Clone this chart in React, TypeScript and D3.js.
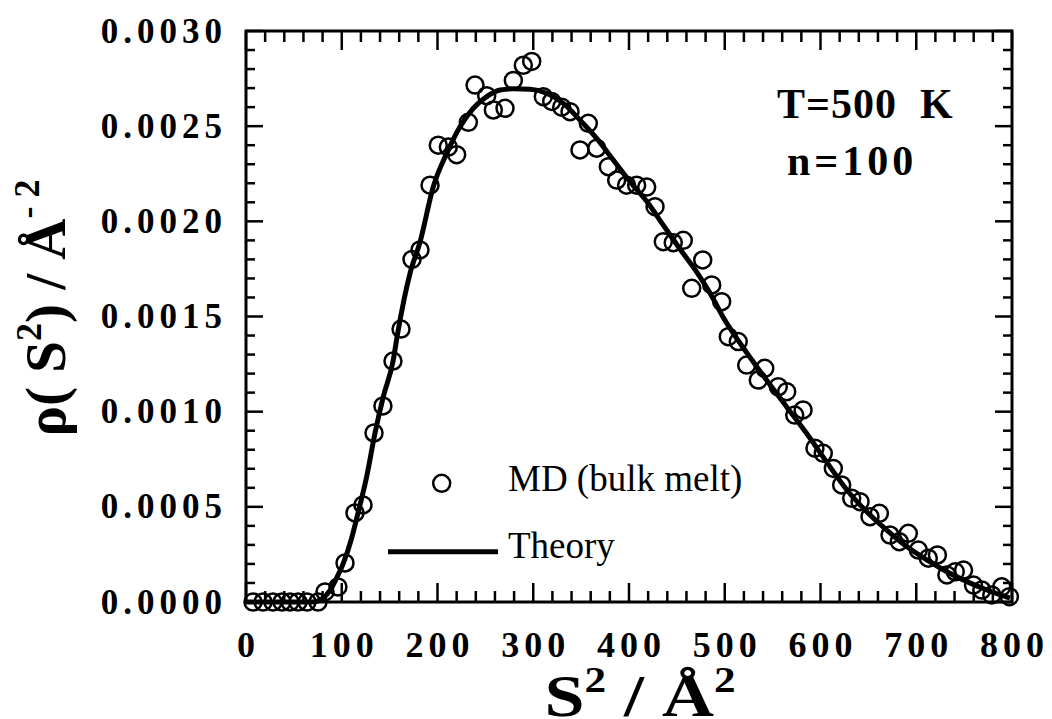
import React from "react";
import * as d3 from "d3";

// ---- data ----
const mdX = [7.3, 17.8, 28.2, 37.6, 46, 54.3, 63.7, 75.2, 82.5, 96, 103.4, 113.8, 122.2, 133.7, 143, 153.5, 161.9, 173.4, 181.7, 192.2, 200.8, 211.3, 220, 232.2, 239.2, 251.4, 258.3, 270.5, 279.2, 289.6, 298.4, 310.5, 319.3, 329.7, 338.4, 348.8, 357.5, 366.3, 378.4, 387.1, 397.5, 408, 418.5, 427.2, 435.8, 446.2, 456.7, 465.5, 477, 486.4, 496.8, 503.7, 514.1, 522.9, 535, 541.8, 555.9, 564.7, 573.1, 581.8, 594.2, 602.9, 613.4, 622.1, 632.6, 641.3, 651.7, 661.5, 672.6, 682.3, 691.7, 702.2, 712.6, 722.1, 732, 740.7, 749.4, 759.8, 768.5, 778.9, 789.3, 797.3];
const mdY = [0, 0, 0, 0, 0, 0, 0, 0, 0.000053, 0.000079, 0.000205, 0.000468, 0.00051, 0.000888, 0.00103, 0.001266, 0.001434, 0.0018, 0.00185, 0.00219, 0.0024, 0.00239, 0.00235, 0.00252, 0.002716, 0.00266, 0.002585, 0.002594, 0.00274, 0.00282, 0.00284, 0.002655, 0.00263, 0.0026, 0.002576, 0.002375, 0.002515, 0.002384, 0.002287, 0.002217, 0.00219, 0.00219, 0.00218, 0.002077, 0.001893, 0.001888, 0.0019, 0.001648, 0.001797, 0.001666, 0.001578, 0.001394, 0.001368, 0.001245, 0.001166, 0.001228, 0.001131, 0.001105, 0.000982, 0.001009, 0.000808, 0.000781, 0.000702, 0.000615, 0.000545, 0.000527, 0.000448, 0.000466, 0.000352, 0.000317, 0.000361, 0.000273, 0.00023, 0.000247, 0.000142, 0.000159, 0.000168, 0.000089, 0.000063, 0.000037, 0.00008, 0.000028];

const theoryX = [0, 70, 78, 88, 95, 101.6, 110, 117.3, 126, 134.7, 143.4, 153.8, 158, 171.3, 181.7, 195.6, 209.6, 223.5, 237.4, 251.4, 265.3, 279.2, 296.6, 314, 331.4, 348.8, 366.2, 383.6, 401, 418.5, 435.8, 453.2, 470.6, 485, 498.5, 522.9, 543.8, 564.7, 585.6, 606.5, 627.4, 648.3, 669.2, 690.1, 711, 732, 752.9, 773.8, 797.9];
const theoryY = [0, 0, 0.000012, 0.000063, 0.00013, 0.000203, 0.00033, 0.000474, 0.000658, 0.000886, 0.001079, 0.001271, 0.0014, 0.001727, 0.00189, 0.002182, 0.002357, 0.002497, 0.002594, 0.002655, 0.00269, 0.002696, 0.002694, 0.002673, 0.00262, 0.002532, 0.002436, 0.002322, 0.002208, 0.002105, 0.00198, 0.001855, 0.001735, 0.00162, 0.001495, 0.00131, 0.001165, 0.001025, 0.000885, 0.000735, 0.00059, 0.000474, 0.000378, 0.000291, 0.000221, 0.000159, 0.000107, 0.000063, 0.00002];

const xTicks = [0, 100, 200, 300, 400, 500, 600, 700, 800];
const yTicks = [0, 0.0005, 0.001, 0.0015, 0.002, 0.0025, 0.003];
const legendLabels = ["MD (bulk melt)", "Theory"];
const annotations = ["T=500  K", "n=100"];

const W = 1052;
const H = 719;
const left = 246, right = 1012, top = 31, bottom = 602;

const serif = "'Liberation Serif', 'Times New Roman', Times, serif";

export default function App() {
  const x = d3.scaleLinear().domain([0, 800]).range([left, right]);
  const y = d3.scaleLinear().domain([0, 0.003]).range([bottom, top]);

  const xMinor = d3.range(0, 800.001, 20).filter((v) => v % 100 !== 0);
  const yMinor = d3.range(0, 0.0030001, 0.0001).filter((v) => Math.abs(Math.round(v / 0.0005) * 0.0005 - v) > 1e-9);

  const line = d3
    .line<number>()
    .x((_, i) => x(theoryX[i]))
    .y((_, i) => y(theoryY[i]))
    .curve(d3.curveMonotoneX);

  const fmt = d3.format(".4f");
  const tickW = 2.5;

  return (
    <svg
      width={W}
      height={H}
      style={{ position: "absolute", left: 0, top: 0, display: "block", background: "#fff" }}
    >
      <rect x={0} y={0} width={W} height={H} fill="#fff" />

      {/* ticks, all four sides, inward */}
      <g stroke="#000" strokeWidth={tickW}>
        {xTicks.map((v) => (
          <g key={"xt" + v}>
            <line x1={x(v)} x2={x(v)} y1={bottom} y2={bottom - 19} />
            <line x1={x(v)} x2={x(v)} y1={top} y2={top + 19} />
          </g>
        ))}
        {xMinor.map((v) => (
          <g key={"xm" + v}>
            <line x1={x(v)} x2={x(v)} y1={bottom} y2={bottom - 11} />
            <line x1={x(v)} x2={x(v)} y1={top} y2={top + 11} />
          </g>
        ))}
        {yTicks.map((v) => (
          <g key={"yt" + v}>
            <line x1={left} x2={left + 17} y1={y(v)} y2={y(v)} />
            <line x1={right} x2={right - 17} y1={y(v)} y2={y(v)} />
          </g>
        ))}
        {yMinor.map((v) => (
          <g key={"ym" + v}>
            <line x1={left} x2={left + 9} y1={y(v)} y2={y(v)} />
            <line x1={right} x2={right - 9} y1={y(v)} y2={y(v)} />
          </g>
        ))}
      </g>

      {/* frame */}
      <rect x={left} y={top} width={right - left} height={bottom - top} fill="none" stroke="#000" strokeWidth={3} />

      {/* theory curve */}
      <path d={line(theoryX) || ""} fill="none" stroke="#000" strokeWidth={5} strokeLinejoin="round" />

      {/* MD points */}
      <g fill="none" stroke="#000" strokeWidth={2.5}>
        {mdX.map((v, i) => (
          <circle key={"p" + i} cx={x(v)} cy={y(mdY[i])} r={8.5} />
        ))}
      </g>

      {/* y tick labels */}
      <g fontFamily={serif} fontWeight="bold" fontSize={35} letterSpacing={5} textAnchor="end">
        {yTicks.map((v) => (
          <text key={"yl" + v} x={222 + 5} y={y(v) + 11.5}>
            {fmt(v)}
          </text>
        ))}
      </g>

      {/* x tick labels */}
      <g fontFamily={serif} fontWeight="bold" fontSize={36} letterSpacing={5} textAnchor="middle">
        {xTicks.map((v) => (
          <text key={"xl" + v} x={x(v) + 2.5} y={657}>
            {v}
          </text>
        ))}
      </g>

      {/* x axis title (slightly widened like the reference lettering) */}
      <g transform="translate(640, 716) scale(1.2, 1)">
        <text x={0} y={0} fontFamily={serif} fontWeight="bold" fontSize={60} textAnchor="middle">
          <tspan>S</tspan>
          <tspan fontSize={36} dy={-24}>2</tspan>
          <tspan dy={24}>{"\u00A0/\u00A0Å"}</tspan>
          <tspan fontSize={36} dy={-24}>2</tspan>
        </text>
      </g>

      {/* y axis title */}
      <text
        transform={`translate(65, 308) rotate(-90)`}
        fontFamily={serif}
        fontWeight="bold"
        fontSize={57}
        textAnchor="middle"
      >
        <tspan>ρ(&#160;S</tspan>
        <tspan fontSize={36} dy={-24}>2</tspan>
        <tspan dy={24}>)&#160;/&#160;Å</tspan>
        <tspan fontSize={36} dy={-26}>-&#160;2</tspan>
      </text>

      {/* annotations */}
      <text x={777} y={118} fontFamily={serif} fontWeight="bold" fontSize={42} letterSpacing={1}>
        {annotations[0].replace("  ", "\u00A0\u00A0")}
      </text>
      <text x={787} y={175} fontFamily={serif} fontWeight="bold" fontSize={42} letterSpacing={4}>
        {annotations[1]}
      </text>

      {/* legend */}
      <circle cx={441.7} cy={483.3} r={8.5} fill="none" stroke="#000" strokeWidth={2.5} />
      <text x={508} y={491} fontFamily={serif} fontSize={37}>
        {legendLabels[0]}
      </text>
      <line x1={388} x2={498} y1={551.7} y2={551.7} stroke="#000" strokeWidth={5} />
      <text x={508} y={558} fontFamily={serif} fontSize={37}>
        {legendLabels[1]}
      </text>
    </svg>
  );
}
